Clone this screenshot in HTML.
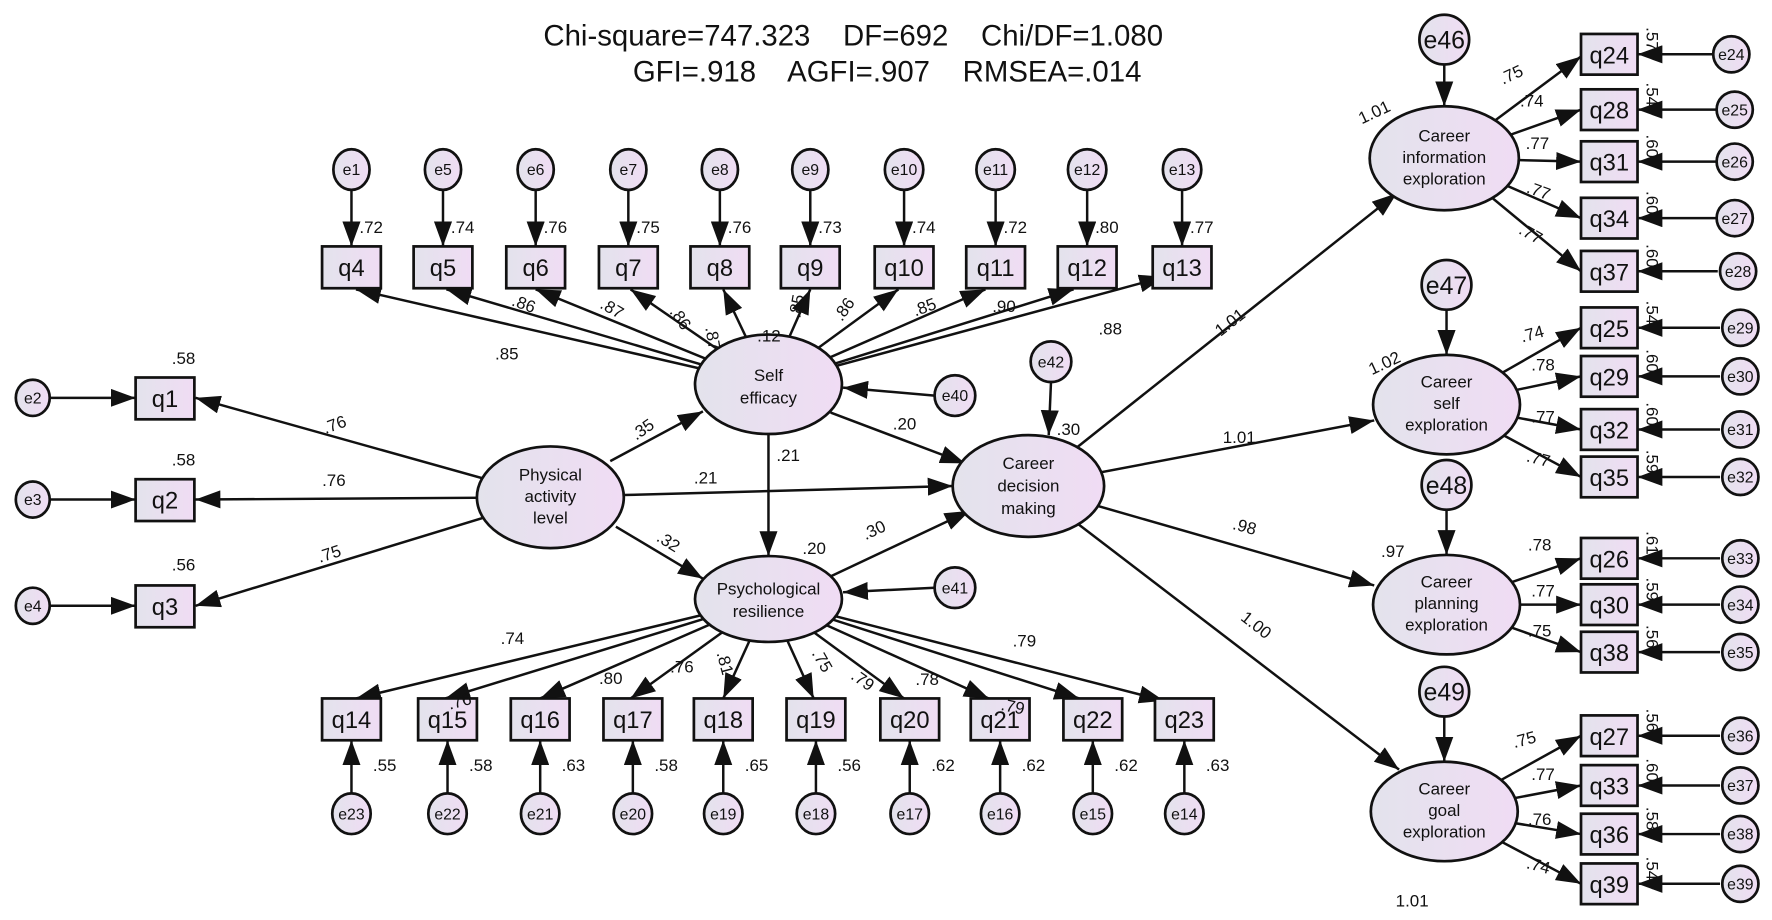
<!DOCTYPE html>
<html><head><meta charset="utf-8"><style>
html,body{margin:0;padding:0;background:#fff}
svg{display:block}
text{font-family:"Liberation Sans",Arial,sans-serif;fill:#111}
.t{font-size:26px;white-space:pre}
.l{font-size:15px}
.n{font-size:15px;text-anchor:middle}
.b{font-size:21px;text-anchor:middle}
.e{font-size:14px;text-anchor:middle}
.eb{font-size:22px;text-anchor:middle}
line{stroke:#111;stroke-width:2.2}
.s{stroke:#111;stroke-width:2.4;fill:url(#g)}
</style></head><body>
<svg width="1772" height="920" viewBox="0 0 1568 814" xmlns="http://www.w3.org/2000/svg">
<defs>
<linearGradient id="g" x1="0" y1="0" x2="1" y2="0"><stop offset="0" stop-color="#e3e3ec"/><stop offset="1" stop-color="#f0dcf4"/></linearGradient>
<marker id="a" markerUnits="userSpaceOnUse" markerWidth="24" markerHeight="16" refX="22" refY="8" orient="auto"><path d="M0,0L22,8L0,16Z" fill="#111"/></marker>
</defs>
<text class="t" x="755" y="40" text-anchor="middle" xml:space="preserve">Chi-square=747.323    DF=692    Chi/DF=1.080</text>
<text class="t" x="785" y="72" text-anchor="middle" xml:space="preserve">GFI=.918    AGFI=.907    RMSEA=.014</text>

<g marker-end="url(#a)">
<line x1="311" y1="168" x2="311" y2="218"/><line x1="392" y1="168" x2="392" y2="218"/><line x1="474" y1="168" x2="474" y2="218"/><line x1="556" y1="168" x2="556" y2="218"/><line x1="637" y1="168" x2="637" y2="218"/><line x1="717" y1="168" x2="717" y2="218"/><line x1="800" y1="168" x2="800" y2="218"/><line x1="881" y1="168" x2="881" y2="218"/><line x1="962" y1="168" x2="962" y2="218"/><line x1="1046" y1="168" x2="1046" y2="218"/>
<line x1="680" y1="340" x2="315" y2="256"/><line x1="680" y1="340" x2="395" y2="256"/><line x1="680" y1="340" x2="474" y2="256"/><line x1="680" y1="340" x2="558" y2="256"/><line x1="680" y1="340" x2="640" y2="256"/><line x1="680" y1="340" x2="717" y2="256"/><line x1="680" y1="340" x2="795" y2="256"/><line x1="680" y1="340" x2="872" y2="256"/><line x1="680" y1="340" x2="950" y2="256"/><line x1="680" y1="340" x2="1030" y2="245"/>
<line x1="487" y1="440" x2="173" y2="352"/><line x1="487" y1="440" x2="173" y2="442"/><line x1="487" y1="440" x2="173" y2="536"/>
<line x1="540" y1="408" x2="622" y2="364"/><line x1="545" y1="466" x2="622" y2="512"/><line x1="552" y1="438" x2="843" y2="430"/>
<line x1="680" y1="384" x2="680" y2="492"/><line x1="735" y1="365" x2="854" y2="410"/><line x1="735" y1="510" x2="858" y2="452"/>
<line x1="827" y1="350" x2="746" y2="343"/><line x1="827" y1="520" x2="746" y2="524"/><line x1="930" y1="338" x2="928" y2="385"/>
<line x1="21" y1="352" x2="120" y2="352"/><line x1="21" y1="442" x2="120" y2="442"/><line x1="21" y1="536" x2="120" y2="536"/>
<line x1="680" y1="530" x2="315" y2="618"/><line x1="680" y1="530" x2="394" y2="618"/><line x1="680" y1="530" x2="478" y2="618"/><line x1="680" y1="530" x2="558" y2="618"/><line x1="680" y1="530" x2="640" y2="618"/><line x1="680" y1="530" x2="720" y2="618"/><line x1="680" y1="530" x2="800" y2="618"/><line x1="680" y1="530" x2="875" y2="618"/><line x1="680" y1="530" x2="955" y2="618"/><line x1="680" y1="530" x2="1030" y2="620"/>
<line x1="311" y1="702" x2="311" y2="655"/><line x1="396" y1="702" x2="396" y2="655"/><line x1="478" y1="702" x2="478" y2="655"/><line x1="560" y1="702" x2="560" y2="655"/><line x1="640" y1="702" x2="640" y2="655"/><line x1="722" y1="702" x2="722" y2="655"/><line x1="805" y1="702" x2="805" y2="655"/><line x1="885" y1="702" x2="885" y2="655"/><line x1="967" y1="702" x2="967" y2="655"/><line x1="1048" y1="702" x2="1048" y2="655"/>
<line x1="910" y1="430" x2="1236" y2="171"/><line x1="910" y1="430" x2="1216" y2="372"/><line x1="910" y1="430" x2="1216" y2="518"/><line x1="910" y1="430" x2="1238" y2="681"/>
<line x1="1278" y1="57" x2="1278" y2="94"/>
<line x1="1278" y1="140" x2="1399" y2="50"/><line x1="1278" y1="140" x2="1399" y2="97"/><line x1="1278" y1="140" x2="1399" y2="143"/><line x1="1278" y1="140" x2="1399" y2="193"/><line x1="1278" y1="140" x2="1399" y2="240"/>
<line x1="1280" y1="274" x2="1280" y2="314"/>
<line x1="1280" y1="358" x2="1399" y2="290"/><line x1="1280" y1="358" x2="1399" y2="333"/><line x1="1280" y1="358" x2="1399" y2="380"/><line x1="1280" y1="358" x2="1399" y2="422"/>
<line x1="1280" y1="451" x2="1280" y2="491"/>
<line x1="1280" y1="535" x2="1399" y2="494"/><line x1="1280" y1="535" x2="1399" y2="535"/><line x1="1280" y1="535" x2="1399" y2="577"/>
<line x1="1278" y1="634" x2="1278" y2="674"/>
<line x1="1278" y1="718" x2="1399" y2="651"/><line x1="1278" y1="718" x2="1399" y2="695"/><line x1="1278" y1="718" x2="1399" y2="738"/><line x1="1278" y1="718" x2="1399" y2="782"/>
<line x1="1515" y1="48" x2="1449" y2="48"/><line x1="1518" y1="97" x2="1449" y2="97"/><line x1="1518" y1="143" x2="1449" y2="143"/><line x1="1518" y1="193" x2="1449" y2="193"/><line x1="1520" y1="240" x2="1449" y2="240"/>
<line x1="1522" y1="290" x2="1449" y2="290"/><line x1="1522" y1="333" x2="1449" y2="333"/><line x1="1522" y1="380" x2="1449" y2="380"/><line x1="1522" y1="422" x2="1449" y2="422"/>
<line x1="1522" y1="494" x2="1449" y2="494"/><line x1="1522" y1="535" x2="1449" y2="535"/><line x1="1522" y1="577" x2="1449" y2="577"/>
<line x1="1522" y1="651" x2="1449" y2="651"/><line x1="1522" y1="695" x2="1449" y2="695"/><line x1="1522" y1="738" x2="1449" y2="738"/><line x1="1522" y1="782" x2="1449" y2="782"/>
</g>

<ellipse class="s" cx="680" cy="340" rx="65" ry="44"/><text class="n" x="680" y="337">Self</text><text class="n" x="680" y="357">efficacy</text>
<ellipse class="s" cx="487" cy="440" rx="65" ry="45"/><text class="n" x="487" y="425">Physical</text><text class="n" x="487" y="444">activity</text><text class="n" x="487" y="463">level</text>
<ellipse class="s" cx="680" cy="530" rx="65" ry="38"/><text class="n" x="680" y="526">Psychological</text><text class="n" x="680" y="546">resilience</text>
<ellipse class="s" cx="910" cy="430" rx="67" ry="45"/><text class="n" x="910" y="415">Career</text><text class="n" x="910" y="435">decision</text><text class="n" x="910" y="455">making</text>
<ellipse class="s" cx="1278" cy="140" rx="66" ry="46"/><text class="n" x="1278" y="125">Career</text><text class="n" x="1278" y="144">information</text><text class="n" x="1278" y="163">exploration</text>
<ellipse class="s" cx="1280" cy="358" rx="65" ry="44"/><text class="n" x="1280" y="343">Career</text><text class="n" x="1280" y="362">self</text><text class="n" x="1280" y="381">exploration</text>
<ellipse class="s" cx="1280" cy="535" rx="65" ry="44"/><text class="n" x="1280" y="520">Career</text><text class="n" x="1280" y="539">planning</text><text class="n" x="1280" y="558">exploration</text>
<ellipse class="s" cx="1278" cy="718" rx="65" ry="44"/><text class="n" x="1278" y="703">Career</text><text class="n" x="1278" y="722">goal</text><text class="n" x="1278" y="741">exploration</text>

<g>
<ellipse class="s" cx="311" cy="150" rx="16" ry="18"/><text class="e" x="311" y="155">e1</text>
<ellipse class="s" cx="392" cy="150" rx="16" ry="18"/><text class="e" x="392" y="155">e5</text>
<ellipse class="s" cx="474" cy="150" rx="16" ry="18"/><text class="e" x="474" y="155">e6</text>
<ellipse class="s" cx="556" cy="150" rx="16" ry="18"/><text class="e" x="556" y="155">e7</text>
<ellipse class="s" cx="637" cy="150" rx="16" ry="18"/><text class="e" x="637" y="155">e8</text>
<ellipse class="s" cx="717" cy="150" rx="16" ry="18"/><text class="e" x="717" y="155">e9</text>
<ellipse class="s" cx="800" cy="150" rx="17" ry="18"/><text class="e" x="800" y="155">e10</text>
<ellipse class="s" cx="881" cy="150" rx="17" ry="18"/><text class="e" x="881" y="155">e11</text>
<ellipse class="s" cx="962" cy="150" rx="17" ry="18"/><text class="e" x="962" y="155">e12</text>
<ellipse class="s" cx="1046" cy="150" rx="17" ry="18"/><text class="e" x="1046" y="155">e13</text>
<ellipse class="s" cx="29" cy="352" rx="15" ry="16"/><text class="e" x="29" y="357">e2</text>
<ellipse class="s" cx="29" cy="442" rx="15" ry="16"/><text class="e" x="29" y="447">e3</text>
<ellipse class="s" cx="29" cy="536" rx="15" ry="16"/><text class="e" x="29" y="541">e4</text>
<ellipse class="s" cx="845" cy="350" rx="18" ry="18"/><text class="e" x="845" y="355">e40</text>
<ellipse class="s" cx="845" cy="520" rx="18" ry="18"/><text class="e" x="845" y="525">e41</text>
<ellipse class="s" cx="930" cy="320" rx="18" ry="18"/><text class="e" x="930" y="325">e42</text>
<ellipse class="s" cx="311" cy="720" rx="17" ry="18"/><text class="e" x="311" y="725">e23</text>
<ellipse class="s" cx="396" cy="720" rx="17" ry="18"/><text class="e" x="396" y="725">e22</text>
<ellipse class="s" cx="478" cy="720" rx="17" ry="18"/><text class="e" x="478" y="725">e21</text>
<ellipse class="s" cx="560" cy="720" rx="17" ry="18"/><text class="e" x="560" y="725">e20</text>
<ellipse class="s" cx="640" cy="720" rx="17" ry="18"/><text class="e" x="640" y="725">e19</text>
<ellipse class="s" cx="722" cy="720" rx="17" ry="18"/><text class="e" x="722" y="725">e18</text>
<ellipse class="s" cx="805" cy="720" rx="17" ry="18"/><text class="e" x="805" y="725">e17</text>
<ellipse class="s" cx="885" cy="720" rx="17" ry="18"/><text class="e" x="885" y="725">e16</text>
<ellipse class="s" cx="967" cy="720" rx="17" ry="18"/><text class="e" x="967" y="725">e15</text>
<ellipse class="s" cx="1048" cy="720" rx="17" ry="18"/><text class="e" x="1048" y="725">e14</text>
<circle class="s" cx="1278" cy="35" r="22"/><text class="eb" x="1278" y="43">e46</text>
<circle class="s" cx="1280" cy="252" r="22"/><text class="eb" x="1280" y="260">e47</text>
<circle class="s" cx="1280" cy="429" r="22"/><text class="eb" x="1280" y="437">e48</text>
<circle class="s" cx="1278" cy="612" r="22"/><text class="eb" x="1278" y="620">e49</text>
<circle class="s" cx="1532" cy="48" r="16"/><text class="e" x="1532" y="53">e24</text>
<circle class="s" cx="1535" cy="97" r="16"/><text class="e" x="1535" y="102">e25</text>
<circle class="s" cx="1535" cy="143" r="16"/><text class="e" x="1535" y="148">e26</text>
<circle class="s" cx="1535" cy="193" r="16"/><text class="e" x="1535" y="198">e27</text>
<circle class="s" cx="1538" cy="240" r="16"/><text class="e" x="1538" y="245">e28</text>
<circle class="s" cx="1540" cy="290" r="16"/><text class="e" x="1540" y="295">e29</text>
<circle class="s" cx="1540" cy="333" r="16"/><text class="e" x="1540" y="338">e30</text>
<circle class="s" cx="1540" cy="380" r="16"/><text class="e" x="1540" y="385">e31</text>
<circle class="s" cx="1540" cy="422" r="16"/><text class="e" x="1540" y="427">e32</text>
<circle class="s" cx="1540" cy="494" r="16"/><text class="e" x="1540" y="499">e33</text>
<circle class="s" cx="1540" cy="535" r="16"/><text class="e" x="1540" y="540">e34</text>
<circle class="s" cx="1540" cy="577" r="16"/><text class="e" x="1540" y="582">e35</text>
<circle class="s" cx="1540" cy="651" r="16"/><text class="e" x="1540" y="656">e36</text>
<circle class="s" cx="1540" cy="695" r="16"/><text class="e" x="1540" y="700">e37</text>
<circle class="s" cx="1540" cy="738" r="16"/><text class="e" x="1540" y="743">e38</text>
<circle class="s" cx="1540" cy="782" r="16"/><text class="e" x="1540" y="787">e39</text>
</g>

<g>
<rect class="s" x="285" y="218" width="52" height="37"/><text class="b" x="311" y="244">q4</text>
<rect class="s" x="366" y="218" width="52" height="37"/><text class="b" x="392" y="244">q5</text>
<rect class="s" x="448" y="218" width="52" height="37"/><text class="b" x="474" y="244">q6</text>
<rect class="s" x="530" y="218" width="52" height="37"/><text class="b" x="556" y="244">q7</text>
<rect class="s" x="611" y="218" width="52" height="37"/><text class="b" x="637" y="244">q8</text>
<rect class="s" x="691" y="218" width="52" height="37"/><text class="b" x="717" y="244">q9</text>
<rect class="s" x="774" y="218" width="52" height="37"/><text class="b" x="800" y="244">q10</text>
<rect class="s" x="855" y="218" width="52" height="37"/><text class="b" x="881" y="244">q11</text>
<rect class="s" x="936" y="218" width="52" height="37"/><text class="b" x="962" y="244">q12</text>
<rect class="s" x="1020" y="218" width="52" height="37"/><text class="b" x="1046" y="244">q13</text>
<rect class="s" x="120" y="334" width="52" height="37"/><text class="b" x="146" y="360">q1</text>
<rect class="s" x="120" y="424" width="52" height="37"/><text class="b" x="146" y="450">q2</text>
<rect class="s" x="120" y="518" width="52" height="37"/><text class="b" x="146" y="544">q3</text>
<rect class="s" x="285" y="618" width="52" height="37"/><text class="b" x="311" y="644">q14</text>
<rect class="s" x="370" y="618" width="52" height="37"/><text class="b" x="396" y="644">q15</text>
<rect class="s" x="452" y="618" width="52" height="37"/><text class="b" x="478" y="644">q16</text>
<rect class="s" x="534" y="618" width="52" height="37"/><text class="b" x="560" y="644">q17</text>
<rect class="s" x="614" y="618" width="52" height="37"/><text class="b" x="640" y="644">q18</text>
<rect class="s" x="696" y="618" width="52" height="37"/><text class="b" x="722" y="644">q19</text>
<rect class="s" x="779" y="618" width="52" height="37"/><text class="b" x="805" y="644">q20</text>
<rect class="s" x="859" y="618" width="52" height="37"/><text class="b" x="885" y="644">q21</text>
<rect class="s" x="941" y="618" width="52" height="37"/><text class="b" x="967" y="644">q22</text>
<rect class="s" x="1022" y="618" width="52" height="37"/><text class="b" x="1048" y="644">q23</text>
<rect class="s" x="1399" y="30" width="50" height="36"/><text class="b" x="1424" y="56">q24</text>
<rect class="s" x="1399" y="79" width="50" height="36"/><text class="b" x="1424" y="105">q28</text>
<rect class="s" x="1399" y="125" width="50" height="36"/><text class="b" x="1424" y="151">q31</text>
<rect class="s" x="1399" y="175" width="50" height="36"/><text class="b" x="1424" y="201">q34</text>
<rect class="s" x="1399" y="222" width="50" height="36"/><text class="b" x="1424" y="248">q37</text>
<rect class="s" x="1399" y="272" width="50" height="36"/><text class="b" x="1424" y="298">q25</text>
<rect class="s" x="1399" y="315" width="50" height="36"/><text class="b" x="1424" y="341">q29</text>
<rect class="s" x="1399" y="362" width="50" height="36"/><text class="b" x="1424" y="388">q32</text>
<rect class="s" x="1399" y="404" width="50" height="36"/><text class="b" x="1424" y="430">q35</text>
<rect class="s" x="1399" y="476" width="50" height="36"/><text class="b" x="1424" y="502">q26</text>
<rect class="s" x="1399" y="517" width="50" height="36"/><text class="b" x="1424" y="543">q30</text>
<rect class="s" x="1399" y="559" width="50" height="36"/><text class="b" x="1424" y="585">q38</text>
<rect class="s" x="1399" y="633" width="50" height="36"/><text class="b" x="1424" y="659">q27</text>
<rect class="s" x="1399" y="677" width="50" height="36"/><text class="b" x="1424" y="703">q33</text>
<rect class="s" x="1399" y="720" width="50" height="36"/><text class="b" x="1424" y="746">q36</text>
<rect class="s" x="1399" y="764" width="50" height="36"/><text class="b" x="1424" y="790">q39</text>
</g>

<g class="l">
<text x="318" y="206">.72</text><text x="399" y="206">.74</text><text x="481" y="206">.76</text><text x="563" y="206">.75</text><text x="644" y="206">.76</text><text x="724" y="206">.73</text><text x="807" y="206">.74</text><text x="888" y="206">.72</text><text x="969" y="206">.80</text><text x="1053" y="206">.77</text>
<text x="438" y="318">.85</text><text x="452" y="270" transform="rotate(20 452 270)">.86</text><text x="530" y="272" transform="rotate(30 530 272)">.87</text><text x="592" y="276" transform="rotate(55 592 276)">.86</text><text x="624" y="290" transform="rotate(80 624 290)">.87</text><text x="670" y="302">.12</text><text x="708" y="282" transform="rotate(-80 708 282)">.85</text><text x="745" y="285" transform="rotate(-55 745 285)">.86</text><text x="810" y="280" transform="rotate(-20 810 280)">.85</text><text x="878" y="276">.90</text><text x="972" y="296">.88</text>
<text x="152" y="322">.58</text><text x="152" y="412">.58</text><text x="152" y="505">.56</text>
<text x="288" y="384" transform="rotate(-20 288 384)">.76</text><text x="285" y="430">.76</text><text x="283" y="498" transform="rotate(-18 283 498)">.75</text>
<text x="563" y="390" transform="rotate(-35 563 390)">.35</text><text x="580" y="478" transform="rotate(32 580 478)">.32</text><text x="614" y="428">.21</text>
<text x="687" y="408">.21</text><text x="790" y="380">.20</text><text x="766" y="478" transform="rotate(-25 766 478)">.30</text>
<text x="710" y="490">.20</text><text x="935" y="385">.30</text>
<text x="443" y="570">.74</text><text x="398" y="628" transform="rotate(-15 398 628)">.76</text><text x="530" y="605">.80</text><text x="593" y="595">.76</text><text x="634" y="578" transform="rotate(75 634 578)">.81</text><text x="718" y="578" transform="rotate(60 718 578)">.75</text><text x="752" y="600" transform="rotate(35 752 600)">.79</text><text x="810" y="606">.78</text><text x="885" y="628" transform="rotate(12 885 628)">.79</text><text x="896" y="572">.79</text>
<text x="330" y="682">.55</text><text x="415" y="682">.58</text><text x="497" y="682">.63</text><text x="579" y="682">.58</text><text x="659" y="682">.65</text><text x="741" y="682">.56</text><text x="824" y="682">.62</text><text x="904" y="682">.62</text><text x="986" y="682">.62</text><text x="1067" y="682">.63</text>
<text x="1080" y="298" transform="rotate(-38 1080 298)">1.01</text><text x="1082" y="392">1.01</text><text x="1090" y="468" transform="rotate(15 1090 468)">.98</text><text x="1097" y="548" transform="rotate(38 1097 548)">1.00</text>
<text x="1205" y="110" transform="rotate(-25 1205 110)">1.01</text><text x="1214" y="332" transform="rotate(-25 1214 332)">1.02</text><text x="1222" y="493">.97</text><text x="1235" y="802">1.01</text>
<text x="1330" y="75" transform="rotate(-25 1330 75)">.75</text><text x="1345" y="94">.74</text><text x="1350" y="132">.77</text><text x="1350" y="170" transform="rotate(20 1350 170)">.77</text><text x="1343" y="206" transform="rotate(30 1343 206)">.77</text>
<text x="1347" y="303" transform="rotate(-15 1347 303)">.74</text><text x="1355" y="328">.78</text><text x="1355" y="374">.77</text><text x="1350" y="408" transform="rotate(15 1350 408)">.77</text>
<text x="1352" y="487">.78</text><text x="1355" y="528">.77</text><text x="1352" y="563">.75</text>
<text x="1340" y="662" transform="rotate(-15 1340 662)">.75</text><text x="1355" y="690">.77</text><text x="1352" y="730">.76</text><text x="1350" y="768" transform="rotate(15 1350 768)">.74</text>
<text x="1457" y="24" transform="rotate(90 1457 24)">.57</text><text x="1457" y="73" transform="rotate(90 1457 73)">.54</text><text x="1457" y="119" transform="rotate(90 1457 119)">.60</text><text x="1457" y="169" transform="rotate(90 1457 169)">.60</text><text x="1457" y="216" transform="rotate(90 1457 216)">.60</text>
<text x="1457" y="266" transform="rotate(90 1457 266)">.54</text><text x="1457" y="309" transform="rotate(90 1457 309)">.60</text><text x="1457" y="356" transform="rotate(90 1457 356)">.60</text><text x="1457" y="398" transform="rotate(90 1457 398)">.59</text>
<text x="1457" y="470" transform="rotate(90 1457 470)">.61</text><text x="1457" y="511" transform="rotate(90 1457 511)">.59</text><text x="1457" y="553" transform="rotate(90 1457 553)">.56</text>
<text x="1457" y="627" transform="rotate(90 1457 627)">.56</text><text x="1457" y="671" transform="rotate(90 1457 671)">.60</text><text x="1457" y="714" transform="rotate(90 1457 714)">.58</text><text x="1457" y="758" transform="rotate(90 1457 758)">.54</text>
</g>
</svg>
</body></html>
